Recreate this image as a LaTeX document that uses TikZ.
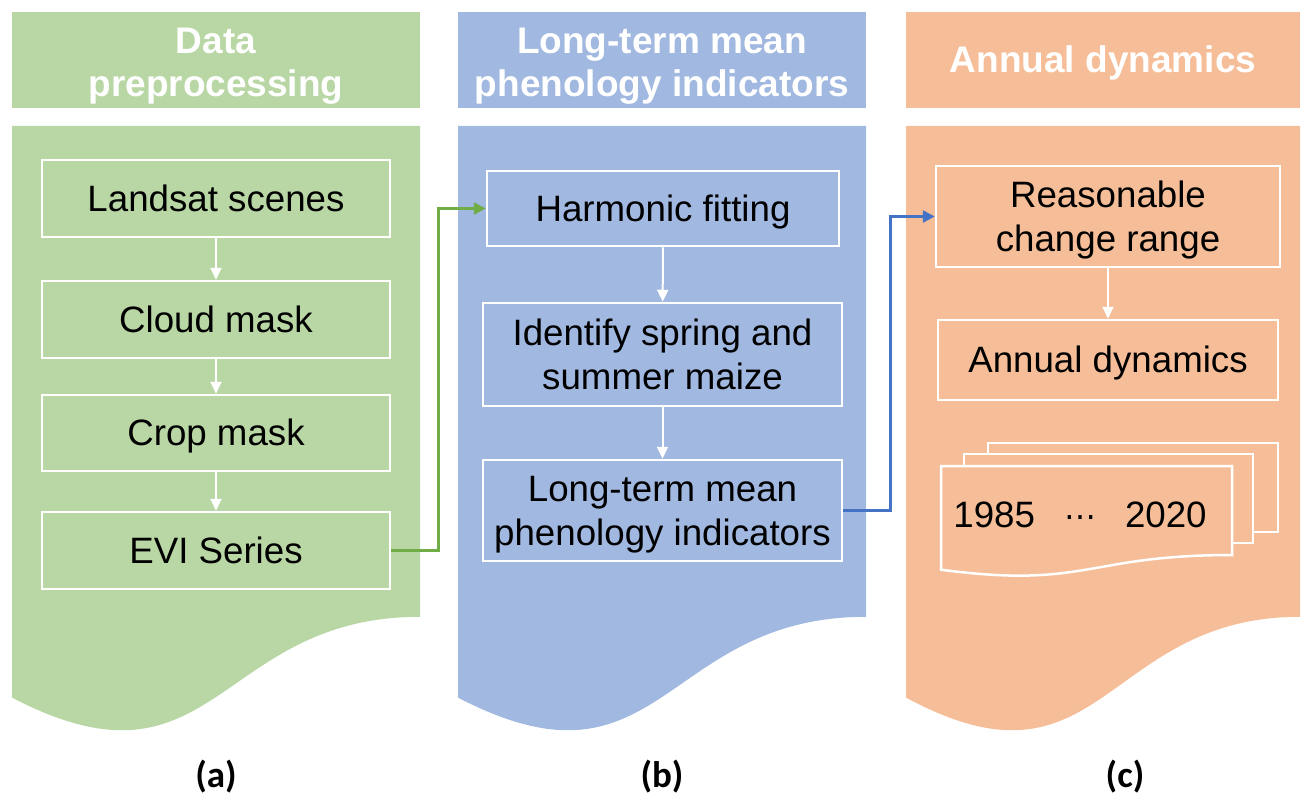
\documentclass[tikz,border=0pt]{standalone}
\usepackage{fontspec}
\setmainfont{Liberation Sans}
\newfontfamily\labfont{Carlito}
\newfontfamily\symfont{DejaVu Sans}
\usetikzlibrary{arrows.meta}
\definecolor{gfill}{HTML}{B9D6A5}
\definecolor{bfill}{HTML}{A1B8E0}
\definecolor{ofill}{HTML}{F6BE98}
\definecolor{garr}{HTML}{70AD47}
\definecolor{barr}{HTML}{4472C4}
\newcommand\bs{\rule[-7pt]{0pt}{40pt}}
\tikzset{
  box/.style={draw=white,line width=2.5pt,align=center,inner sep=0pt,
    font=\fontsize{36.7}{44}\selectfont,text=black},
  head/.style={align=center,inner sep=0pt,text=white,
    font=\bfseries\fontsize{37}{43}\selectfont},
  lab/.style={inner sep=0pt,font=\labfont\bfseries\fontsize{37}{44}\selectfont},
  warrow/.style={draw=white,line width=2pt,-{Triangle[length=12pt,width=11pt]}},
  conn/.style={line width=2.6pt,-{Triangle[length=12pt,width=12pt]}},
  docline/.style={draw=white,line width=2.5pt,fill=ofill}
}
\begin{document}
\begin{tikzpicture}[x=1pt,y=-1pt]
\useasboundingbox (0,0) rectangle (1301,797);
% headers
\fill[gfill] (12,12) rectangle (420,108);
\fill[bfill] (458,12) rectangle (866,108);
\fill[ofill] (906,12) rectangle (1300,108);
\node[head] (ha) at (216,62.5) {\bs Data\\\bs preprocessing};
\node[head] (hb) at (662,62.5) {\bs Long-term mean\\\bs phenology indicators};
\node[head] (hc) at (1103,60) {\bs Annual dynamics};
% bodies (document shapes)
\fill[gfill] (12,126) -- (420,126) -- (420,616.8)
  .. controls (216,616.8) and (216,803.8) .. (12,697.6) -- cycle;
\fill[bfill] (458,126) -- (866,126) -- (866,616.8)
  .. controls (662,616.8) and (662,803.8) .. (458,697.6) -- cycle;
\fill[ofill] (906,126) -- (1300,126) -- (1300,616.8)
  .. controls (1103,616.8) and (1103,803.8) .. (906,697.6) -- cycle;
% column a
\node[box,minimum width=348pt,minimum height=77pt] (a1) at (216,198.5) {\bs Landsat scenes};
\node[box,minimum width=348pt,minimum height=77pt] (a2) at (216,319.5) {\bs Cloud mask};
\node[box,minimum width=348pt,minimum height=76pt] (a3) at (216,433) {\bs Crop mask};
\node[box,minimum width=348pt,minimum height=77pt] (a4) at (216,550.5) {\bs EVI Series};
\draw[warrow] (a1) -- (a2);
\draw[warrow] (a2) -- (a3);
\draw[warrow] (a3) -- (a4);
% column b
\node[box,minimum width=352pt,minimum height=75pt] (b1) at (663,208.5) {\bs Harmonic fitting};
\node[box,minimum width=359pt,minimum height=103pt] (b2) at (662.5,354.5) {\bs Identify spring and\\\bs summer maize};
\node[box,minimum width=359pt,minimum height=101pt] (b3) at (662.5,510.5) {\bs Long-term mean\\\bs phenology indicators};
\draw[warrow] (b1) -- (b2);
\draw[warrow] (b2) -- (b3);
% column c
\node[box,minimum width=344pt,minimum height=101pt] (c1) at (1108,216.5) {\bs Reasonable\\\bs change range};
\node[box,minimum width=340pt,minimum height=80pt] (c2) at (1108,360) {\bs Annual dynamics};
\draw[warrow] (c1) -- (c2);
% multi-document
\path[docline] (988,443) rectangle (1278,532);
\path[docline] (964,454) rectangle (1253,543);
\path[docline] (941,466) -- (1232,466) -- (1232,555)
  .. controls (1086.5,555) and (1086.5,589) .. (941,569.7) -- cycle;
\node[inner sep=0pt,font=\fontsize{36.7}{44}\selectfont] (yrs) at (1080,514)
  {\bs 1985\makebox[90pt]{\symfont\fontsize{32}{36}\selectfont ⋯}2020};
% connectors
\draw[conn,garr] (a4.east) -- ++(47,0) |- (b1.west);
\draw[conn,barr] (b3.east) -- ++(47,0) |- (c1.west);
% labels
\node[lab] (la) at (216,777) {(a)};
\node[lab] (lb) at (662,777) {(b)};
\node[lab] (lc) at (1125,777) {(c)};
\end{tikzpicture}
\end{document}
